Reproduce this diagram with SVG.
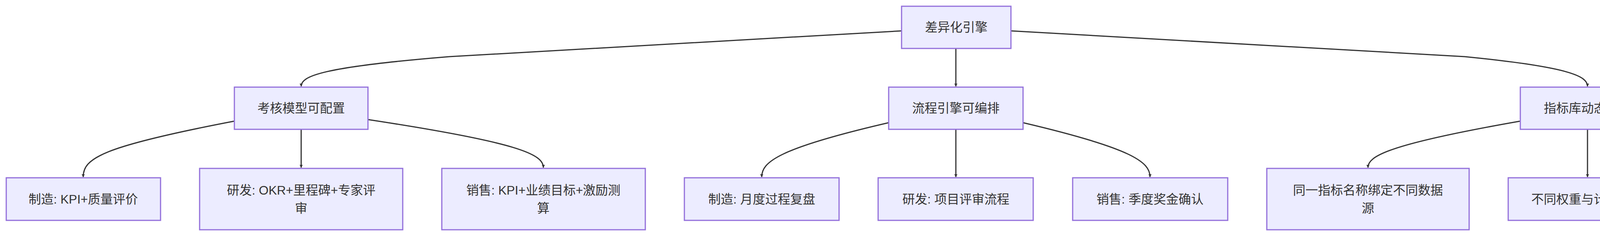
<svg xmlns="http://www.w3.org/2000/svg" width="4907" height="604" viewBox="0 0 4907 604">
<style>
.n rect{fill:#ECECFF;stroke:#9370DB;stroke-width:3}
.n text{font-family:"Liberation Sans","Noto Sans CJK SC",sans-serif;font-size:32px;fill:#333;text-anchor:middle;dominant-baseline:central}
.e path{fill:none;stroke:#333;stroke-width:3}
</style>
<defs><marker id="a" viewBox="0 0 10 10" refX="9" refY="5" markerWidth="8" markerHeight="8" markerUnits="userSpaceOnUse" orient="auto"><path d="M0,0L10,5L0,10z" fill="#333"/></marker></defs>
<rect width="4907" height="604" fill="#fff"/>
<g class="e">
<path marker-end="url(#a)" markerWidth="8" d="M2308,79 L1150,145 C820,172 771,195 771,221"/>
<path marker-end="url(#a)" d="M2447,124 L2447,221"/>
<path marker-end="url(#a)" d="M2588,79 L3750,145 C4020,172 4064,195 4064,221"/>
<path marker-end="url(#a)" d="M600,310 C260,375 213,405 213,453"/>
<path marker-end="url(#a)" d="M771,331 L771,429"/>
<path marker-end="url(#a)" d="M942,306 C1330,365 1391,395 1391,429"/>
<path marker-end="url(#a)" d="M2275,314 C1990,380 1950,415 1950,453"/>
<path marker-end="url(#a)" d="M2447,331 L2447,453"/>
<path marker-end="url(#a)" d="M2619,314 C2900,380 2944,415 2944,453"/>
<path marker-end="url(#a)" d="M3892,310 C3550,370 3502,400 3502,429"/>
<path marker-end="url(#a)" d="M4064,331 L4064,453"/>
<path marker-end="url(#a)" d="M4236,310 C4580,370 4627,400 4627,429"/>
</g>
<g class="n" id="root"><rect x="2308" y="16" width="280" height="108"/><text x="2448" y="70">差异化引擎</text></g>
<g class="n" id="A"><rect x="600" y="223" width="342" height="108"/><text x="771" y="277">考核模型可配置</text></g>
<g class="n" id="B"><rect x="2275" y="223" width="344" height="108"/><text x="2447" y="277">流程引擎可编排</text></g>
<g class="n" id="C"><rect x="3892" y="223" width="344" height="108"/><text x="4064" y="277">指标库动态映射</text></g>
<g class="n" id="L1"><rect x="16" y="455" width="395" height="109"/><text x="213" y="510">制造: KPI+质量评价</text></g>
<g class="n" id="L2"><rect x="511" y="431" width="520" height="157"/><text x="771" y="487">研发: OKR+里程碑+专家评</text><text x="771" y="533">审</text></g>
<g class="n" id="L3"><rect x="1131" y="431" width="521" height="157"/><text x="1391" y="487">销售: KPI+业绩目标+激励测</text><text x="1391" y="533">算</text></g>
<g class="n" id="L4"><rect x="1752" y="455" width="396" height="109"/><text x="1950" y="510">制造: 月度过程复盘</text></g>
<g class="n" id="L5"><rect x="2248" y="455" width="397" height="109"/><text x="2447" y="510">研发: 项目评审流程</text></g>
<g class="n" id="L6"><rect x="2746" y="455" width="397" height="109"/><text x="2944" y="510">销售: 季度奖金确认</text></g>
<g class="n" id="L7"><rect x="3243" y="431" width="518" height="157"/><text x="3502" y="487">同一指标名称绑定不同数据</text><text x="3502" y="533">源</text></g>
<g class="n" id="L8"><rect x="3861" y="455" width="406" height="109"/><text x="4064" y="510">不同权重与计算口径</text></g>
<g class="n" id="L9"><rect x="4367" y="431" width="520" height="157"/><text x="4627" y="487">记录映射关系而非仅保存名</text><text x="4627" y="533">称</text></g>
</svg>
